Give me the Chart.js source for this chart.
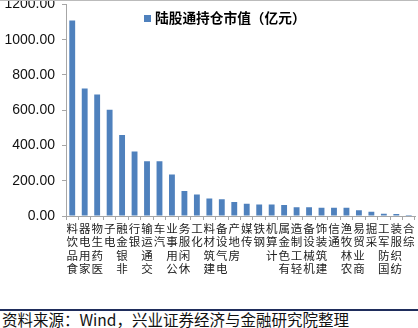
<!DOCTYPE html>
<html>
<head>
<meta charset="utf-8">
<script src="https://cdn.jsdelivr.net/npm/chart.js@4"></script>
<style>
  body { margin: 0; background: #fff; width: 418px; height: 328px; overflow: hidden; position: relative; }
  #wrap { position: absolute; left: 0; top: -11px; width: 418px; height: 317px; }
  #rule { position: absolute; left: 0; top: 309px; width: 418px; height: 2px; background: #1f2d5c; }
  #source { position: absolute; left: 2px; top: 311px; font: 15.5px/16px "Noto Sans CJK SC", serif; color: #111; white-space: nowrap; }
  #topline { position: absolute; left: 0; top: 0; width: 418px; height: 1px; background: #bbb; }
  #legend { position: absolute; left: 144px; top: 8px; font: bold 13.7px/18px "Noto Sans CJK SC", sans-serif; color: #000; white-space: nowrap; }
  #legend i { display: inline-block; width: 7px; height: 7px; background: #4f81bd; margin-right: 4px; vertical-align: 1px; }
</style>
</head>
<body>
<div id="wrap"><canvas id="chart"></canvas></div>
<div id="topline"></div>
<div id="legend"><i></i><span id="legendText"></span></div>
<div id="rule"></div>
<div id="source">资料来源：Wind，兴业证券经济与金融研究院整理</div>
<script>
const categories = ['食品饮料', '家用电器', '医药生物', '电子', '非银金融', '银行', '交通运输', '汽车', '公用事业', '休闲服务',
    '化工', '建筑材料', '电气设备', '房地产', '传媒', '钢铁', '计算机', '有色金属', '轻工制造', '机械设备',
    '建筑装饰', '通信', '农林牧渔', '商业贸易', '采掘', '国防军工', '纺织服装', '综合'];
const holdings = [1108, 723, 689, 603, 459, 366, 310, 310, 235, 142,
    122, 99, 95, 80, 70, 65, 65, 62, 49, 49,
    47, 47, 47, 32, 24, 13, 12, 6];
const yTicks = [0, 200, 400, 600, 800, 1000, 1200];
const seriesName = '陆股通持仓市值（亿元）';

document.getElementById('legendText').textContent = seriesName;

const ctx = document.getElementById('chart').getContext('2d');
new Chart(ctx, {
    type: 'bar',
    data: {
        labels: categories,
        datasets: [{
            label: seriesName,
            data: holdings,
            backgroundColor: '#4f81bd',
            categoryPercentage: 1,
            barPercentage: 0.47
        }]
    },
    options: {
        responsive: true,
        maintainAspectRatio: false,
        animation: false,
        layout: { padding: { top: 0, right: 3, left: 0, bottom: 0 } },
        scales: {
            y: {
                min: 0,
                max: 1200,
                afterBuildTicks: s => { s.ticks = yTicks.map(v => ({ value: v })); },
                afterFit: s => { s.width = 66; },
                border: { color: '#a6a6a6' },
                grid: { drawOnChartArea: false, drawTicks: true, tickLength: 4, color: '#a6a6a6' },
                ticks: {
                    padding: 7,
                    color: '#111',
                    font: { family: 'Liberation Sans', size: 14 },
                    callback: v => Number(v).toFixed(2)
                }
            },
            x: {
                afterFit: s => { s.height = 90; },
                border: { color: '#a6a6a6' },
                grid: { drawOnChartArea: false, drawTicks: true, tickLength: 4, color: '#a6a6a6', offset: true },
                ticks: {
                    maxRotation: 0,
                    autoSkip: false,
                    padding: 2,
                    color: '#222',
                    font: { family: 'Noto Sans CJK SC', size: 11.5, lineHeight: 1.16 },
                    callback: function(v, i) { return categories[i].split('').reverse(); }
                }
            }
        },
        plugins: {
            tooltip: { enabled: false },
            legend: { display: false }
        }
    }
});
</script>
</body>
</html>
